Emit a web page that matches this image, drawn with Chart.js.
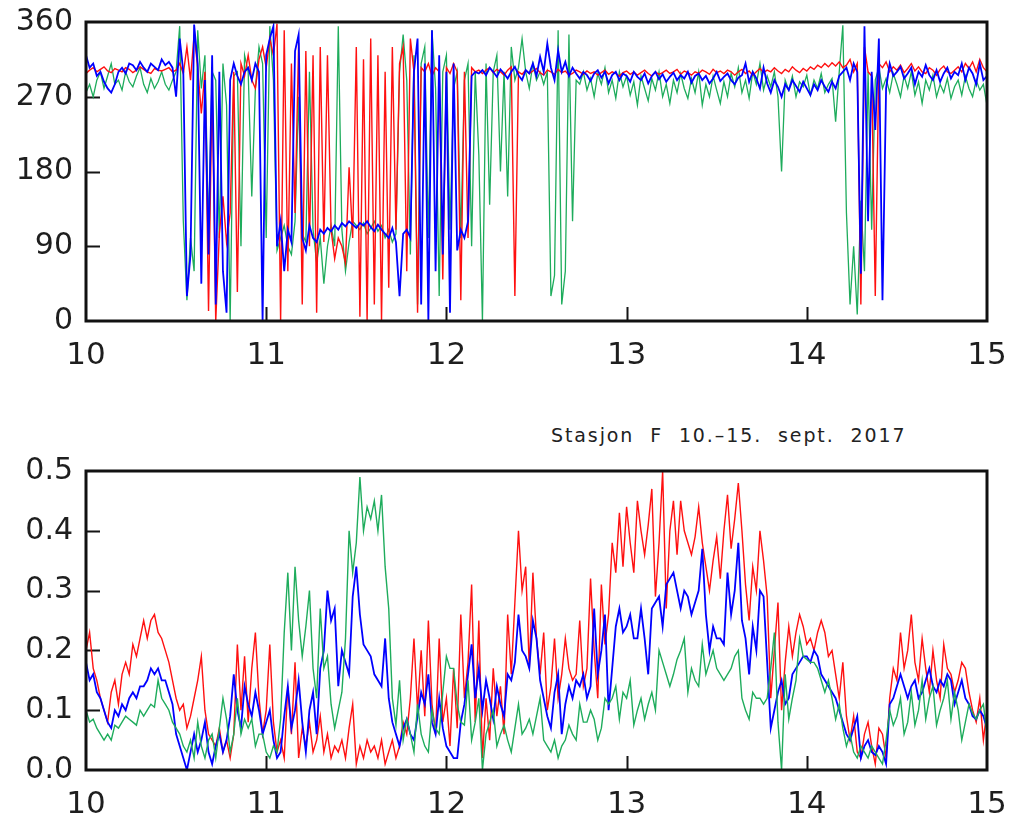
<!DOCTYPE html>
<html>
<head>
<meta charset="utf-8">
<script src="https://cdn.jsdelivr.net/npm/chart.js@4.4.1/dist/chart.umd.min.js"></script>
<style>
  html, body { margin: 0; padding: 0; background: #fff; }
  #wrap { position: relative; width: 1011px; height: 823px; overflow: hidden; }
  canvas { position: absolute; left: 0; }
  #dirCanvas { top: 0; }
  #spdCanvas { top: 400px; }
  #title {
    position: absolute; left: 551px; top: 424px;
    font-family: 'DejaVu Sans', sans-serif; font-size: 19px; color: #222;
    white-space: pre; letter-spacing: 1.9px;
  }
</style>
</head>
<body>
<div id="wrap">
  <canvas id="dirCanvas" width="1011" height="400"></canvas>
  <div id="title">Stasjon  F  10.–15.  sept.  2017</div>
  <canvas id="spdCanvas" width="1011" height="423"></canvas>
</div>
<script>
// Sampling: one value every 0.02 day, 10.00 .. 15.00 (251 samples per series)
const START_DAY = 10;
const STEP_DAY = 0.02;
const dayTicks = [10, 11, 12, 13, 14, 15];
const dirTicks = [0, 90, 180, 270, 360];
const spdTicks = [0.0, 0.1, 0.2, 0.3, 0.4, 0.5];

// Current direction (degrees)
const dirRed = [
  298,302,305,300,303,306,301,299,304,302,
  300,305,303,299,302,306,303,300,298,304,
  302,301,303,305,300,302,310,298,330,290,
  345,305,250,300,12,285,0,105,150,95,
  130,300,35,310,295,320,290,280,315,330,
  305,340,320,358,0,350,60,310,130,335,
  20,325,90,320,10,330,95,320,110,75,
  100,90,70,185,100,330,5,315,0,340,
  20,320,0,300,40,330,110,310,330,60,
  340,300,10,305,300,310,295,305,300,50,
  305,298,310,300,25,300,100,305,300,302,
  298,302,305,299,303,300,296,302,306,30,
  300,297,302,298,301,304,299,296,302,300,
  297,303,299,301,296,298,302,300,297,301,
  298,300,296,299,302,297,300,298,295,299,
  301,297,300,296,299,302,298,295,300,297,
  299,302,298,300,303,297,301,299,296,300,
  298,302,300,297,303,299,301,298,302,300,
  296,300,303,298,301,296,300,304,299,302,
  300,305,301,298,303,300,306,302,299,304,
  301,306,303,308,305,310,306,311,307,312,
  305,308,315,300,310,20,330,300,295,30,
  310,305,312,300,306,302,308,299,304,310,
  301,306,300,298,305,302,296,303,307,300,
  298,302,306,300,310,304,312,300,315,305,
  300
];
const dirBlue = [
  320,305,310,295,300,288,280,275,285,300,
  305,298,310,308,302,312,305,300,310,306,
  302,315,308,312,305,270,340,300,30,80,
  357,310,45,290,80,320,20,300,60,10,
  290,310,295,285,300,305,290,310,300,0,
  320,340,355,90,120,60,110,95,325,345,
  100,85,115,100,95,110,105,112,108,115,
  110,118,114,120,116,112,118,115,120,113,
  108,116,110,105,100,112,95,30,105,110,
  100,300,340,20,310,0,350,60,320,80,
  300,10,310,85,110,100,120,295,300,298,
  302,296,305,300,294,303,298,292,300,306,
  296,290,302,298,310,295,318,300,334,305,
  290,326,300,312,295,305,298,292,300,296,
  289,298,302,293,300,286,296,300,290,298,
  295,288,300,294,290,298,286,295,300,291,
  297,288,294,299,290,296,292,300,287,295,
  298,290,295,286,292,300,289,294,298,290,
  285,293,296,310,288,300,292,280,305,286,
  275,290,282,270,285,278,290,283,276,288,
  280,272,285,278,290,282,276,288,280,295,
  300,305,290,310,300,57,355,120,300,230,
  340,25,280,310,295,300,306,292,298,305,
  285,300,294,308,296,290,302,288,298,305,
  292,300,296,310,290,305,298,285,310,290,
  295
];
const dirGreen = [
  275,285,270,290,300,280,295,310,285,290,
  278,300,288,282,295,305,285,275,292,280,
  288,300,285,278,290,300,355,120,25,100,
  60,350,280,320,110,300,290,100,310,260,
  0,295,300,90,320,300,150,280,330,310,
  100,355,290,85,100,115,90,80,120,270,
  105,95,300,110,70,100,45,90,115,90,
  355,110,60,95,120,115,110,118,105,112,
  120,108,115,100,110,95,105,300,345,290,
  80,320,20,310,330,100,350,280,30,300,
  320,110,280,300,100,290,310,90,300,200,
  0,310,140,300,320,180,300,150,330,290,
  305,340,300,280,310,290,300,285,300,30,
  55,350,20,60,345,120,290,285,300,278,
  292,270,298,285,305,275,290,268,300,282,
  295,272,288,260,295,280,265,292,278,300,
  270,285,262,290,275,298,280,268,292,275,
  300,260,285,270,295,278,262,288,270,298,
  282,305,275,290,268,300,285,310,278,295,
  282,300,270,180,290,278,295,270,288,282,
  296,272,290,280,298,275,285,292,240,300,
  356,130,20,90,8,145,60,300,110,290,
  305,280,292,275,298,285,270,295,280,300,
  272,288,262,290,278,296,270,285,275,292,
  268,282,290,272,295,280,270,290,278,285,
  260
];

// Current speed (m/s)
const spdRed = [
  0.20,0.23,0.17,0.15,0.12,0.10,0.08,0.13,0.15,0.11,
  0.16,0.18,0.16,0.21,0.19,0.22,0.25,0.22,0.25,0.26,
  0.23,0.22,0.20,0.18,0.15,0.12,0.10,0.11,0.07,0.09,
  0.12,0.15,0.19,0.10,0.06,0.05,0.04,0.07,0.03,0.05,
  0.02,0.06,0.21,0.10,0.19,0.08,0.17,0.23,0.12,0.06,
  0.10,0.21,0.08,0.03,0.05,0.02,0.14,0.06,0.18,0.02,
  0.07,0.04,0.08,0.03,0.05,0.09,0.03,0.06,0.02,0.04,
  0.03,0.05,0.02,0.07,0.11,0.01,0.04,0.02,0.05,0.03,
  0.04,0.02,0.05,0.01,0.03,0.05,0.02,0.04,0.08,0.06,
  0.12,0.22,0.10,0.20,0.09,0.25,0.11,0.06,0.22,0.08,
  0.12,0.04,0.17,0.07,0.26,0.12,0.18,0.31,0.08,0.25,
  0.02,0.12,0.05,0.17,0.09,0.14,0.06,0.26,0.16,0.28,
  0.40,0.30,0.34,0.17,0.33,0.22,0.16,0.23,0.10,0.14,
  0.22,0.12,0.16,0.22,0.17,0.15,0.16,0.25,0.14,0.17,
  0.32,0.20,0.12,0.31,0.21,0.26,0.38,0.33,0.43,0.34,
  0.44,0.38,0.33,0.45,0.40,0.36,0.41,0.47,0.29,0.38,
  0.50,0.27,0.40,0.45,0.36,0.45,0.40,0.38,0.36,0.39,
  0.44,0.38,0.34,0.30,0.35,0.39,0.32,0.40,0.46,0.37,
  0.42,0.48,0.40,0.31,0.25,0.34,0.30,0.40,0.35,0.29,
  0.12,0.20,0.28,0.10,0.18,0.24,0.19,0.23,0.26,0.24,
  0.21,0.22,0.20,0.23,0.25,0.23,0.19,0.20,0.16,0.12,
  0.18,0.09,0.05,0.09,0.03,0.02,0.06,0.08,0.04,0.01,
  0.07,0.06,0.02,0.12,0.17,0.15,0.23,0.17,0.20,0.26,
  0.18,0.15,0.22,0.17,0.13,0.20,0.15,0.12,0.21,0.17,
  0.16,0.13,0.15,0.18,0.17,0.13,0.10,0.08,0.12,0.05,
  0.10
];
const spdBlue = [
  0.18,0.15,0.16,0.13,0.12,0.10,0.08,0.07,0.10,0.09,
  0.11,0.10,0.12,0.13,0.12,0.14,0.14,0.15,0.17,0.16,
  0.17,0.15,0.15,0.13,0.11,0.06,0.04,0.02,0.00,0.03,
  0.06,0.03,0.05,0.08,0.03,0.01,0.04,0.06,0.03,0.05,
  0.09,0.16,0.10,0.07,0.14,0.11,0.09,0.13,0.10,0.06,
  0.08,0.10,0.05,0.02,0.03,0.09,0.14,0.07,0.10,0.15,
  0.08,0.03,0.10,0.13,0.06,0.17,0.20,0.30,0.25,0.27,
  0.14,0.20,0.18,0.16,0.29,0.34,0.26,0.21,0.20,0.19,
  0.16,0.15,0.14,0.22,0.12,0.08,0.06,0.04,0.07,0.085,
  0.06,0.05,0.09,0.13,0.11,0.16,0.08,0.06,0.12,0.07,
  0.04,0.03,0.02,0.02,0.08,0.11,0.16,0.21,0.12,0.17,
  0.10,0.15,0.12,0.085,0.14,0.11,0.09,0.16,0.15,0.18,
  0.26,0.20,0.19,0.17,0.25,0.22,0.15,0.12,0.09,0.07,
  0.13,0.16,0.06,0.11,0.14,0.12,0.15,0.14,0.16,0.12,
  0.14,0.27,0.16,0.20,0.26,0.10,0.17,0.24,0.27,0.23,
  0.24,0.26,0.22,0.22,0.27,0.22,0.16,0.27,0.28,0.29,
  0.24,0.31,0.32,0.33,0.30,0.27,0.30,0.29,0.26,0.28,
  0.30,0.37,0.26,0.20,0.24,0.22,0.22,0.21,0.33,0.26,
  0.30,0.38,0.25,0.22,0.16,0.24,0.20,0.30,0.29,0.18,
  0.07,0.10,0.13,0.15,0.11,0.12,0.16,0.17,0.18,0.19,
  0.19,0.18,0.20,0.19,0.16,0.15,0.14,0.13,0.12,0.10,
  0.08,0.06,0.05,0.07,0.09,0.02,0.04,0.05,0.03,0.025,
  0.04,0.03,0.01,0.11,0.12,0.14,0.16,0.14,0.12,0.14,
  0.15,0.12,0.13,0.15,0.17,0.14,0.13,0.15,0.14,0.16,
  0.15,0.11,0.13,0.15,0.12,0.11,0.09,0.085,0.10,0.09,
  0.07
];
const spdGreen = [
  0.10,0.08,0.085,0.07,0.06,0.05,0.06,0.05,0.075,0.07,
  0.08,0.09,0.085,0.08,0.075,0.10,0.09,0.10,0.11,0.105,
  0.15,0.12,0.11,0.10,0.08,0.07,0.06,0.04,0.03,0.05,
  0.02,0.08,0.04,0.02,0.05,0.06,0.02,0.07,0.12,0.085,
  0.03,0.06,0.12,0.06,0.085,0.07,0.085,0.04,0.06,0.06,
  0.03,0.02,0.04,0.03,0.085,0.23,0.33,0.20,0.34,0.25,
  0.19,0.24,0.30,0.17,0.12,0.27,0.17,0.19,0.11,0.07,
  0.10,0.13,0.22,0.40,0.33,0.38,0.49,0.40,0.44,0.42,
  0.45,0.40,0.46,0.34,0.27,0.12,0.075,0.15,0.05,0.085,
  0.06,0.03,0.11,0.06,0.04,0.03,0.10,0.07,0.06,0.13,
  0.19,0.17,0.17,0.11,0.08,0.075,0.15,0.05,0.08,0.12,
  0.00,0.06,0.08,0.10,0.04,0.06,0.075,0.05,0.03,0.07,
  0.11,0.06,0.07,0.085,0.06,0.09,0.12,0.05,0.04,0.03,
  0.05,0.02,0.04,0.05,0.075,0.06,0.05,0.11,0.08,0.08,
  0.10,0.085,0.05,0.07,0.12,0.11,0.12,0.14,0.085,0.13,
  0.12,0.15,0.075,0.10,0.12,0.085,0.11,0.13,0.10,0.20,
  0.18,0.16,0.14,0.16,0.185,0.20,0.22,0.13,0.17,0.15,
  0.14,0.21,0.16,0.18,0.20,0.17,0.16,0.15,0.16,0.17,
  0.19,0.20,0.12,0.10,0.085,0.13,0.12,0.12,0.11,0.12,
  0.17,0.23,0.08,0.00,0.16,0.085,0.12,0.15,0.22,0.19,
  0.185,0.18,0.18,0.17,0.15,0.13,0.15,0.12,0.085,0.11,
  0.07,0.04,0.06,0.03,0.02,0.04,0.03,0.02,0.04,0.03,
  0.02,0.01,0.05,0.10,0.075,0.09,0.12,0.06,0.08,0.13,
  0.075,0.10,0.15,0.085,0.12,0.14,0.075,0.10,0.12,0.15,
  0.085,0.13,0.10,0.05,0.08,0.11,0.095,0.085,0.10,0.11,
  0.06
];

const RED = '#ff1010';
const BLUE = '#0000ff';
const GREEN = 'rgb(30,172,92)';
const FONT = "'DejaVu Sans', sans-serif";

function toPoints(values) {
  return values.map((v, i) => ({ x: START_DAY + i * STEP_DAY, y: v }));
}

function series(values, color, width, order) {
  return {
    data: toPoints(values),
    borderColor: color,
    borderWidth: width,
    pointRadius: 0,
    tension: 0,
    fill: false,
    order: order
  };
}

// Inward tick marks under the data, heavy frame over it
const frameTicks = {
  id: 'frameTicks',
  beforeDatasetsDraw(chart) {
    const { ctx, chartArea: a, scales: { x, y } } = chart;
    ctx.save();
    ctx.strokeStyle = '#151515';
    ctx.lineWidth = 2;
    ctx.beginPath();
    y.ticks.forEach(t => {
      if (t.value > y.min + 1e-9 && t.value < y.max - 1e-9) {
        const py = Math.round(y.getPixelForValue(t.value)) + 0.5;
        ctx.moveTo(a.left, py);
        ctx.lineTo(a.left + 14, py);
      }
    });
    x.ticks.forEach(t => {
      if (t.value > x.min && t.value < x.max) {
        const px = Math.round(x.getPixelForValue(t.value)) + 0.5;
        ctx.moveTo(px, a.bottom);
        ctx.lineTo(px, a.bottom - 14);
      }
    });
    ctx.stroke();
    ctx.restore();
  },
  afterDatasetsDraw(chart) {
    const { ctx, chartArea: a } = chart;
    ctx.save();
    ctx.strokeStyle = '#111';
    ctx.lineWidth = 3;
    ctx.strokeRect(a.left, a.top, a.right - a.left, a.bottom - a.top);
    ctx.restore();
  }
};

function makeChart(canvasId, datasets, yMin, yMax, yStep, yFmt, padTop, xHeight) {
  return new Chart(document.getElementById(canvasId), {
    type: 'line',
    data: { datasets },
    options: {
      responsive: false,
      animation: false,
      events: [],
      parsing: false,
      layout: { padding: { left: 0, right: 24, top: padTop, bottom: 0 } },
      plugins: { legend: { display: false }, tooltip: { enabled: false }, title: { display: false } },
      scales: {
        x: {
          type: 'linear', min: 10, max: 15,
          afterBuildTicks(s) { s.ticks = dayTicks.map(v => ({ value: v })); },
          ticks: {
            padding: 16, color: '#1e1e1e', maxRotation: 0, autoSkip: false,
            font: { family: FONT, size: 31 },
            callback: v => String(v)
          },
          grid: { display: false, drawTicks: false },
          border: { display: false },
          afterFit(s) {
            s.height = xHeight;
            s.paddingLeft = 0; s.paddingRight = 0;
          }
        },
        y: {
          type: 'linear', min: yMin, max: yMax,
          afterBuildTicks(s) { s.ticks = yStep.map(v => ({ value: v })); },
          ticks: {
            padding: 13, color: '#1e1e1e', autoSkip: false,
            font: { family: FONT, size: 30 },
            callback: yFmt
          },
          grid: { display: false, drawTicks: false },
          border: { display: false },
          afterFit(s) {
            s.width = 86;
            s.paddingTop = 0; s.paddingBottom = 0;
          }
        }
      }
    },
    plugins: [frameTicks]
  });
}

makeChart('dirCanvas', [
  series(dirGreen, GREEN, 1.3, 3),
  series(dirRed, RED, 1.4, 2),
  series(dirBlue, BLUE, 1.8, 1)
], 0, 360, dirTicks, v => String(v), 22, 79);

makeChart('spdCanvas', [
  series(spdRed, RED, 1.4, 3),
  series(spdBlue, BLUE, 1.8, 2),
  series(spdGreen, GREEN, 1.4, 1)
], 0, 0.5, spdTicks, v => Number(v).toFixed(1), 71, 53);
</script>
</body>
</html>
